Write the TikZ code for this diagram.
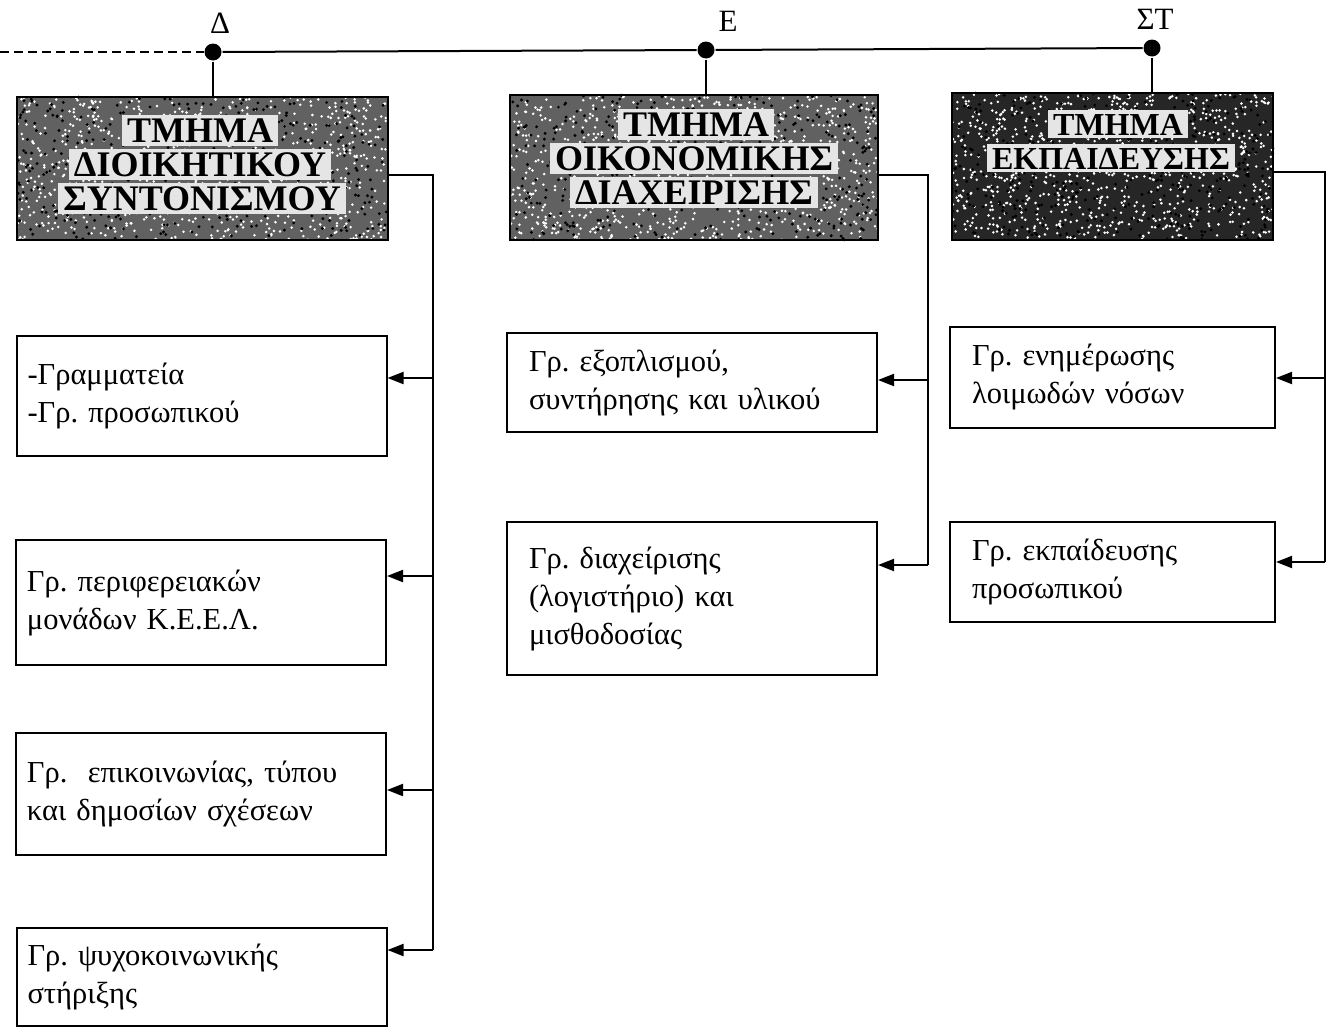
\documentclass[tikz,border=0pt]{standalone}
\usepackage{fontspec}
\setmainfont{Liberation Serif}
\usetikzlibrary{arrows.meta}
\frenchspacing
\begin{document}
\begin{tikzpicture}[x=1pt,y=-1pt,
  line width=2pt,
  unitbox/.style={draw=black, line width=2pt, fill=white, inner xsep=11pt,
    text width=348pt, align=left, font=\fontsize{30.5}{38}\selectfont},
  widebox/.style={unitbox, inner xsep=22pt, text width=326pt},
  narrowbox/.style={unitbox, inner xsep=22pt, text width=281pt},
  headbox/.style={draw=black, line width=2pt, inner sep=0pt},
  headline/.style={fill=black!10, inner xsep=5pt, inner ysep=3pt,
    text height=25pt, text depth=0pt, font=\fontsize{36}{36}\selectfont\bfseries},
  smallheadline/.style={headline, text height=22pt, font=\fontsize{32}{32}\selectfont\bfseries},
  feed/.style={-{Triangle[length=16pt,width=12pt]}, line width=2pt},
  junction/.style={circle, fill=black, inner sep=0pt, minimum size=17pt},
  level/.style={font=\fontsize{31}{31}\selectfont, anchor=south}]
\useasboundingbox (0,0) rectangle (1332,1028);

% top bus with the three junctions
\node[junction] (jd) at (213,52) {};
\node[junction] (je) at (706,50) {};
\node[junction] (js) at (1152,48) {};
\coordinate (busstart) at (0,52);
\draw[dashed, dash pattern=on 9pt off 5pt] (busstart) -- (jd);
\draw (jd) -- (je) -- (js);
\node[level] (ld) at (220,38) {Δ};
\node[level] (le) at (728,36) {Ε};
\node[level] (ls) at (1155,34) {ΣΤ};

% department headers: grainy dark panels
\newcommand{\panel}[6]{% x0,y0,x1,y1,shade,seed
  \fill[black!#5] (#1,#2) rectangle (#3,#4);
  \pgfmathsetseed{#6}
  \foreach \k in {1,...,900}{
    \fill[white] ({#1+rnd*(#3-#1)},{#2+rnd*(#4-#2)}) circle (1.4);}
  \foreach \k in {1,...,400}{
    \fill[black] ({#1+rnd*(#3-#1)},{#2+rnd*(#4-#2)}) circle (1.6);}
}
\panel{17}{97}{388}{240}{62}{11}
\panel{510}{95}{878}{240}{62}{23}
\panel{952}{93}{1273}{240}{85}{37}

\node[headbox, minimum width=371pt, minimum height=143pt] (h1) at (202.5,168.5) {};
\node[headbox, minimum width=368pt, minimum height=145pt] (h2) at (694,167.5) {};
\node[headbox, minimum width=321pt, minimum height=147pt] (h3) at (1112.5,166.5) {};

\node[headline] (h1a) at (200,130) {ΤΜΗΜΑ};
\node[headline] (h1b) at (200,164) {ΔΙΟΙΚΗΤΙΚΟΥ};
\node[headline] (h1c) at (202,198) {ΣΥΝΤΟΝΙΣΜΟΥ};
\node[headline] (h2a) at (696,124) {ΤΜΗΜΑ};
\node[headline] (h2b) at (694,158) {ΟΙΚΟΝΟΜΙΚΗΣ};
\node[headline] (h2c) at (694,192) {ΔΙΑΧΕΙΡΙΣΗΣ};
\node[smallheadline] (h3a) at (1118,124) {ΤΜΗΜΑ};
\node[smallheadline] (h3b) at (1111,158) {ΕΚΠΑΙΔΕΥΣΗΣ};

\draw (jd) -- (jd |- h1.north);
\draw (je) -- (je |- h2.north);
\draw (js) -- (js |- h3.north);

% working groups
\node[unitbox, minimum height=120pt] (b1) at (201.5,396) {-Γραμματεία\\-Γρ. προσωπικού};
\node[unitbox, minimum height=125pt] (b2) at (201,602.5) {Γρ. περιφερειακών\\μονάδων Κ.Ε.Ε.Λ.};
\node[unitbox, minimum height=122pt] (b3) at (201,794) {Γρ.\ \ επικοινωνίας, τύπου\\και δημοσίων σχέσεων};
\node[unitbox, minimum height=98pt] (b4) at (201.5,977) {Γρ. ψυχοκοινωνικής\\στήριξης};

\node[widebox, minimum height=99pt] (m1) at (692,382.5) {Γρ. εξοπλισμού,\\συντήρησης και υλικού};
\node[widebox, minimum height=153pt] (m2) at (692,598.5) {Γρ. διαχείρισης\\(λογιστήριο) και\\μισθοδοσίας};

\node[narrowbox, minimum height=101pt] (r1) at (1112.5,377.5) {Γρ. ενημέρωσης\\λοιμωδών νόσων};
\node[narrowbox, minimum height=100pt] (r2) at (1112.5,572) {Γρ. εκπαίδευσης\\προσωπικού};

% branch lines from each header to its groups
\coordinate (t1) at (433,175);
\coordinate (t2) at (928,175);
\coordinate (t3) at (1325,172);
\coordinate (a1) at (433,378);
\coordinate (a2) at (433,576);
\coordinate (a3) at (433,790);
\coordinate (a4) at (433,950);
\coordinate (c1) at (928,380);
\coordinate (c2) at (928,565);
\coordinate (d1) at (1325,378);
\coordinate (d2) at (1325,562);

\draw (h1.east |- t1) -- (t1) -- (a4);
\draw[feed] (a1) -- (b1.east |- a1);
\draw[feed] (a2) -- (b2.east |- a2);
\draw[feed] (a3) -- (b3.east |- a3);
\draw[feed] (a4) -- (b4.east |- a4);

\draw (h2.east |- t2) -- (t2) -- (c2);
\draw[feed] (c1) -- (m1.east |- c1);
\draw[feed] (c2) -- (m2.east |- c2);

\draw (h3.east |- t3) -- (t3) -- (d2);
\draw[feed] (d1) -- (r1.east |- d1);
\draw[feed] (d2) -- (r2.east |- d2);
\end{tikzpicture}
\end{document}
